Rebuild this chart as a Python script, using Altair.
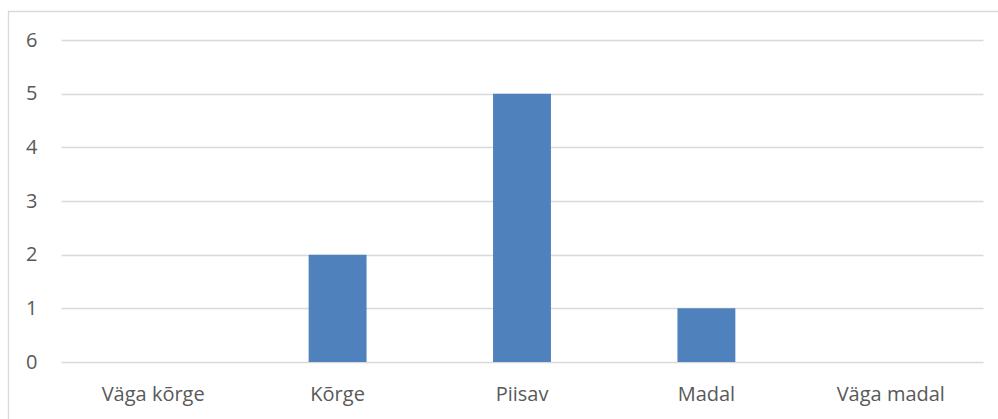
import altair as alt
import pandas as pd

# Survey answer categories and their counts
categories = ["Väga kõrge", "Kõrge", "Piisav", "Madal", "Väga madal"]
counts = [0, 2, 5, 1, 0]

df = pd.DataFrame({"kategooria": categories, "arv": counts})

FONT = "Open Sans"
TEXT = "#595959"
GRID = "#D9D9D9"

bars = alt.Chart(df).mark_bar(color="#4F81BD").encode(
    x=alt.X(
        "kategooria:N",
        sort=categories,
        title=None,
        scale=alt.Scale(paddingInner=0.686, paddingOuter=0.343),
        axis=alt.Axis(
            labelAngle=0, ticks=False, domain=False, grid=False,
            labelFont=FONT, labelFontSize=20, labelColor=TEXT, labelPadding=22,
        ),
    ),
    y=alt.Y(
        "arv:Q",
        title=None,
        scale=alt.Scale(domain=[0, 6], nice=False),
        axis=alt.Axis(
            values=[0, 1, 2, 3, 4, 5, 6], ticks=False, domain=False,
            gridColor=GRID, gridWidth=1.3,
            labelFont=FONT, labelFontSize=20, labelColor=TEXT, labelPadding=24,
        ),
    ),
)

# Light frame around the whole chart area
frame = alt.Chart(alt.Data(values=[{}])).mark_rect(
    fill=None, stroke=GRID, strokeWidth=1.3
).encode(
    x=alt.value(-52.5), x2=alt.value(960),
    y=alt.value(-28.5), y2=alt.value(400),
)

chart = alt.layer(frame, bars).properties(
    width=922, height=322,
    padding={"left": 61, "top": 40, "right": 15, "bottom": 57},
    autosize=alt.AutoSizeParams(type="none"),
    background="white",
).configure_view(stroke=None)

chart.save("out.html", embed_options={"renderer": "svg", "actions": False})
